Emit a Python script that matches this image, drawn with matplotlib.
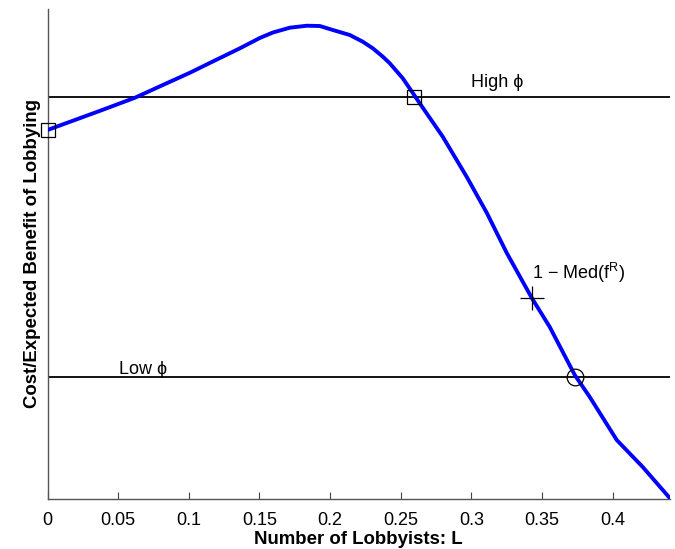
import matplotlib
matplotlib.use("Agg")
import matplotlib.pyplot as plt

plt.rcParams['font.family'] = ['Liberation Sans', 'DejaVu Sans']
plt.rcParams['mathtext.fontset'] = 'custom'
plt.rcParams['mathtext.rm'] = 'Liberation Sans'

# Curve: cost / expected benefit of lobbying vs number of lobbyists
lobbyists = [0.0, 0.0371, 0.0619, 0.0796, 0.1008, 0.1184, 0.1361, 0.1503, 0.1595,
             0.1715, 0.1835, 0.1927, 0.2019, 0.2139, 0.2231, 0.2302, 0.2373, 0.2422,
             0.2514, 0.2585, 0.2634, 0.2797, 0.2967, 0.3109, 0.3250, 0.3427, 0.3554,
             0.3731, 0.3837, 0.4028, 0.4212, 0.4403]
ratio = [0.7523, 0.7914, 0.8181, 0.8414, 0.8691, 0.8940, 0.9188, 0.9400, 0.9511,
         0.9609, 0.9649, 0.9643, 0.9562, 0.9460, 0.9323, 0.9188, 0.9017, 0.8883,
         0.8577, 0.8277, 0.8067, 0.7386, 0.6565, 0.5831, 0.5015, 0.4098, 0.3507,
         0.2528, 0.2080, 0.1203, 0.0652, 0.0020]

high_phi = 0.819
low_phi = 0.249

# Marked points
square_x = [0.0, 0.259]
square_y = [0.752, 0.819]
plus_x, plus_y = 0.3426, 0.410
circle_x, circle_y = 0.373, 0.249

x_ticks = [0, 0.05, 0.1, 0.15, 0.2, 0.25, 0.3, 0.35, 0.4]
x_tick_labels = ['0', '0.05', '0.1', '0.15', '0.2', '0.25', '0.3', '0.35', '0.4']

fig = plt.figure(figsize=(6.75, 5.49), dpi=100)
ax = fig.add_axes([0.0704, 0.0911, 0.9222, 0.8934])

ax.axhline(high_phi, color='black', lw=1.3, zorder=2)
ax.axhline(low_phi, color='black', lw=1.3, zorder=2)
ax.plot(lobbyists, ratio, color='#0000ff', lw=2.8, zorder=3,
        solid_capstyle='round', solid_joinstyle='round')

ax.plot(square_x, square_y, linestyle='none', marker='s', markersize=10.5,
        markerfacecolor='none', markeredgecolor='black', markeredgewidth=0.9,
        zorder=4, clip_on=False)
ax.plot([plus_x], [plus_y], linestyle='none', marker='+', markersize=17,
        color='black', markeredgewidth=0.9, zorder=4, clip_on=False)
ax.plot([circle_x], [circle_y], linestyle='none', marker='o', markersize=12,
        markerfacecolor='none', markeredgecolor='black', markeredgewidth=0.9,
        zorder=4, clip_on=False)

ax.text(0.300, 0.840, 'High ϕ', fontsize=13, va='baseline', ha='left')
ax.text(0.0506, 0.2548, 'Low ϕ', fontsize=13, va='baseline', ha='left')
ax.text(0.343, 0.4485, r'1 − Med(f$^{\mathregular{R}}$)', fontsize=13, va='baseline', ha='left')

ax.set_xlim(0, 0.4405)
ax.set_ylim(0, 1)
ax.set_xticks(x_ticks)
ax.set_xticklabels(x_tick_labels, fontsize=13)
ax.set_yticks([])
ax.tick_params(axis='x', direction='in', length=5, width=0.8, color='#444444', pad=9.5)

for s in ['top', 'right']:
    ax.spines[s].set_visible(False)
for s in ['left', 'bottom']:
    ax.spines[s].set_color('#555555')
    ax.spines[s].set_linewidth(1.0)

ax.set_xlabel('Number of Lobbyists: L', fontsize=13.4, fontweight='bold', labelpad=1.5)
ax.set_ylabel('Cost/Expected Benefit of Lobbying', fontsize=13.4, fontweight='bold', labelpad=4.5)

fig.savefig('out.png', dpi=100)
